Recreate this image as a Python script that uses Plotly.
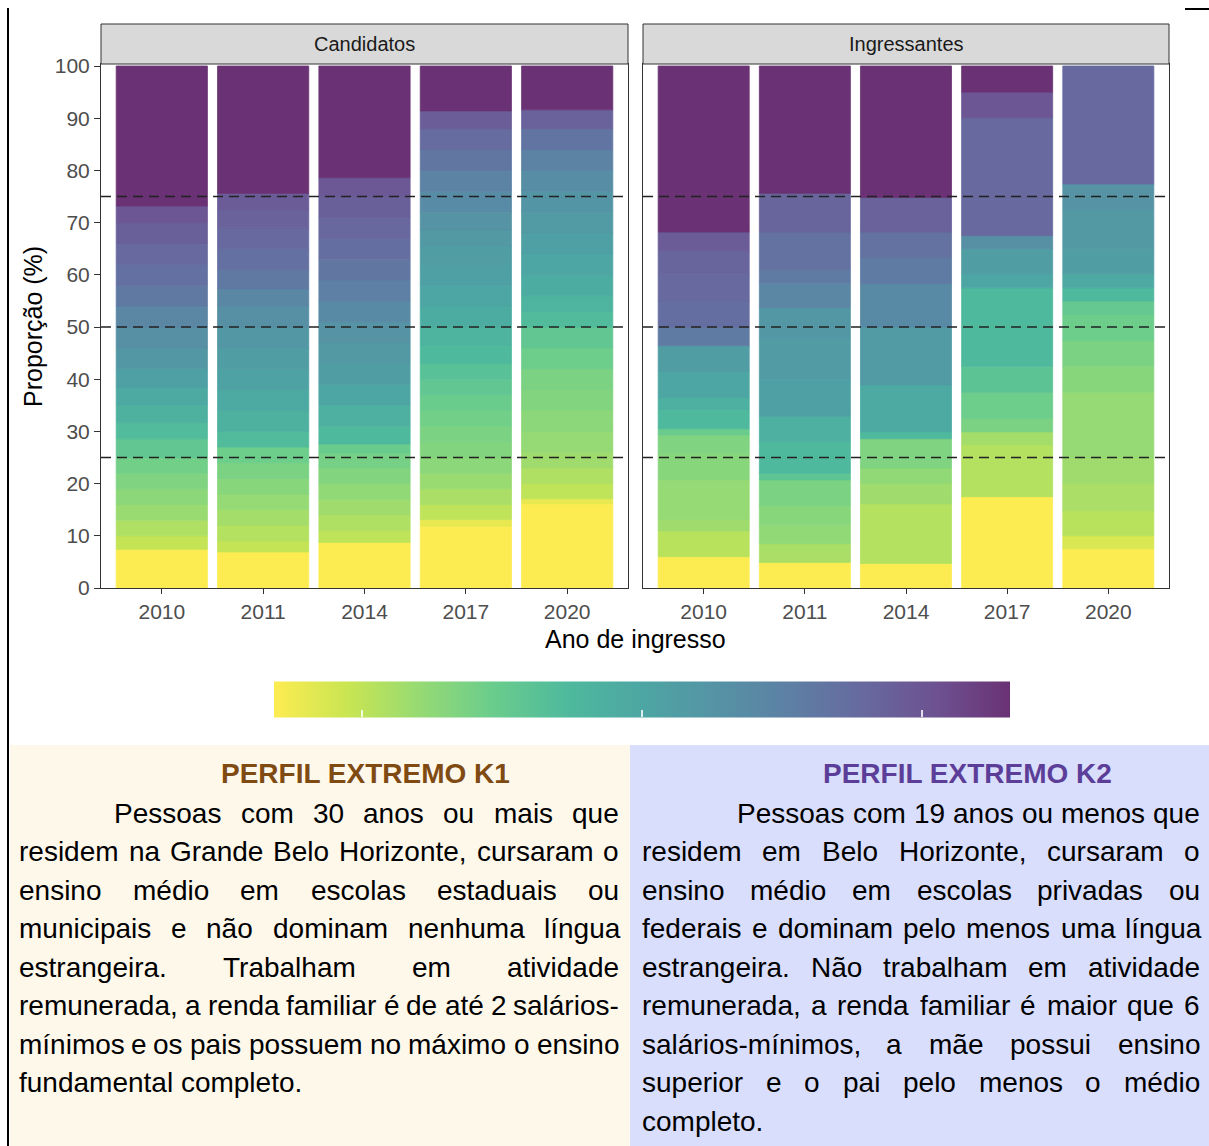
import plotly.graph_objects as go
import unicodedata

# ---------------- DATA ----------------
years = ["2010", "2011", "2014", "2017", "2020"]
panels = ["Candidatos", "Ingressantes"]

# Each bar: cumulative top of every stacked slice (%) and its colour score
# (score 0 = yellow / perfil K1 ... 1 = purple / perfil K2)
cand_2010_tops = [7.4, 10, 13, 16, 19, 22, 25, 28.6, 31.7, 35, 38.5, 42, 46, 50, 54, 58, 62, 66, 70, 73.2, 100]
cand_2010_score = [0, 0.11, 0.15, 0.19, 0.22, 0.25, 0.28, 0.33, 0.39, 0.44, 0.48, 0.53, 0.58, 0.62, 0.67, 0.73, 0.77, 0.80, 0.84, 0.88, 1.0]

cand_2011_tops = [6.9, 9, 12, 15, 18, 21, 24, 27, 30, 34, 38, 42, 46, 50, 54, 57.3, 61, 65, 69, 72.5, 75.6, 100]
cand_2011_score = [0, 0.11, 0.14, 0.17, 0.20, 0.23, 0.26, 0.29, 0.39, 0.44, 0.48, 0.52, 0.55, 0.58, 0.62, 0.66, 0.73, 0.77, 0.80, 0.83, 0.86, 1.0]

cand_2014_tops = [8.7, 11, 14, 17, 20, 23, 25.8, 27.6, 31, 35, 39, 43, 47, 51, 55, 59, 63, 67, 71, 75, 78.6, 100]
cand_2014_score = [0, 0.12, 0.15, 0.18, 0.21, 0.24, 0.27, 0.30, 0.40, 0.45, 0.50, 0.54, 0.57, 0.60, 0.65, 0.70, 0.74, 0.78, 0.81, 0.84, 0.87, 1.0]

cand_2017_tops = [11.8, 13.1, 16, 19, 22, 25, 28, 31, 34, 37, 40, 43, 46.5, 50, 54, 58, 62, 65.5, 68.6, 72, 76, 80, 84, 88, 91.4, 100]
cand_2017_score = [0, 0.04, 0.12, 0.16, 0.19, 0.22, 0.24, 0.26, 0.28, 0.30, 0.33, 0.36, 0.40, 0.43, 0.47, 0.50, 0.53, 0.55, 0.57, 0.60, 0.64, 0.69, 0.74, 0.79, 0.85, 1.0]

cand_2020_tops = [16.1, 17.1, 20, 23, 26, 30, 34, 38, 42, 46, 50, 53, 56, 60, 64, 68, 72, 76, 80, 84, 88, 91.6, 100]
cand_2020_score = [0, 0.04, 0.12, 0.15, 0.18, 0.20, 0.22, 0.24, 0.26, 0.29, 0.33, 0.39, 0.43, 0.47, 0.50, 0.53, 0.56, 0.59, 0.63, 0.69, 0.75, 0.83, 1.0]

ingr_2010_tops = [6.0, 10.9, 13.1, 20.7, 25.7, 29.3, 30.5, 34.2, 36.5, 41.5, 46.4, 50, 55, 60, 64.6, 68.2, 100]
ingr_2010_score = [0, 0.13, 0.18, 0.20, 0.23, 0.25, 0.30, 0.40, 0.45, 0.50, 0.55, 0.72, 0.78, 0.80, 0.82, 0.86, 1.0]

ingr_2011_tops = [4.9, 8.5, 12.1, 15.8, 20.7, 22, 28, 32.9, 40, 48, 53.7, 58.4, 61, 68.2, 75.6, 100]
ingr_2011_score = [0, 0.16, 0.21, 0.23, 0.26, 0.34, 0.40, 0.45, 0.53, 0.56, 0.58, 0.67, 0.72, 0.76, 0.82, 1.0]

ingr_2014_tops = [4.7, 16.1, 20.1, 23, 28.6, 29.9, 38.9, 50, 58.3, 63.3, 68.2, 74.8, 100]
ingr_2014_score = [0, 0.14, 0.18, 0.21, 0.25, 0.40, 0.48, 0.56, 0.65, 0.72, 0.76, 0.83, 1.0]

ingr_2017_tops = [17.5, 27.4, 29.9, 32.4, 37.5, 42.5, 57.5, 60.2, 65, 67.5, 90.1, 95, 100]
ingr_2017_score = [0, 0.14, 0.17, 0.26, 0.29, 0.35, 0.40, 0.50, 0.55, 0.62, 0.80, 0.88, 1.0]

ingr_2020_tops = [7.5, 10, 14.8, 20, 25, 37.5, 42.5, 47.4, 52.4, 55, 57.5, 60.2, 65, 72.5, 77.4, 100]
ingr_2020_score = [0, 0.07, 0.13, 0.16, 0.18, 0.20, 0.23, 0.26, 0.29, 0.32, 0.40, 0.48, 0.54, 0.57, 0.60, 0.80]

candidatos = [(cand_2010_tops, cand_2010_score), (cand_2011_tops, cand_2011_score),
              (cand_2014_tops, cand_2014_score), (cand_2017_tops, cand_2017_score),
              (cand_2020_tops, cand_2020_score)]
ingressantes = [(ingr_2010_tops, ingr_2010_score), (ingr_2011_tops, ingr_2011_score),
                (ingr_2014_tops, ingr_2014_score), (ingr_2017_tops, ingr_2017_score),
                (ingr_2020_tops, ingr_2020_score)]

y_ticks = [0, 10, 20, 30, 40, 50, 60, 70, 80, 90, 100]
ref_lines = [25, 50, 75]

k1_title = "PERFIL EXTREMO K1"
k2_title = "PERFIL EXTREMO K2"
k1_lines = [
    "Pessoas com 30 anos ou mais que",
    "residem na Grande Belo Horizonte, cursaram o",
    "ensino médio em escolas estaduais ou",
    "municipais e não dominam nenhuma língua",
    "estrangeira. Trabalham em atividade",
    "remunerada, a renda familiar é de até 2 salários-",
    "mínimos e os pais possuem no máximo o ensino",
    "fundamental completo.",
]
k2_lines = [
    "Pessoas com 19 anos ou menos que",
    "residem em Belo Horizonte, cursaram o",
    "ensino médio em escolas privadas ou",
    "federais e dominam pelo menos uma língua",
    "estrangeira. Não trabalham em atividade",
    "remunerada, a renda familiar é maior que 6",
    "salários-mínimos, a mãe possui ensino",
    "superior e o pai pelo menos o médio",
    "completo.",
]

# ---------------- STYLE ----------------
W, H = 1209, 1146
FONT = "Liberation Sans"

def px(x):
    return x / W

def py(y):
    return 1 - y / H

# reversed viridis, alpha 0.8 over white
colorscale = [
    [0.0, "#FDEC51"], [0.1, "#C9E552"], [0.2, "#95DA74"], [0.3, "#69CC8D"],
    [0.4, "#4EB99D"], [0.5, "#4DA6A3"], [0.6, "#5593A5"], [0.7, "#5D80A4"],
    [0.8, "#67699F"], [0.9, "#6D5191"], [1.0, "#6A3274"],
]

fig = go.Figure()

for pi, bars in enumerate([candidatos, ingressantes]):
    xs, hs, bs, cs = [], [], [], []
    for bi, (tops, scores) in enumerate(bars):
        prev = 0.0
        for t, s in zip(tops, scores):
            xs.append(bi + 1)
            bs.append(prev)
            hs.append(t - prev)
            cs.append(s)
            prev = t
    fig.add_trace(go.Bar(
        x=xs, y=hs, base=bs, width=0.9,
        marker=dict(color=cs, coloraxis="coloraxis",
                    line=dict(width=0.8, color=cs, colorscale=colorscale, cmin=0, cmax=1)),
        xaxis="x" if pi == 0 else "x2", yaxis="y" if pi == 0 else "y2",
        showlegend=False, hoverinfo="skip",
    ))

panel_x = [(101, 628), (643, 1169)]
panel_top, panel_bottom = 64, 588
ymax = 100 * (panel_bottom - panel_top) / (588 - 66)

axis_common = dict(showline=True, mirror=True, linecolor="#333333", linewidth=1,
                   showgrid=False, zeroline=False, automargin=False)

layout = dict(
    width=W, height=H, margin=dict(l=0, r=0, t=0, b=0, pad=0, autoexpand=False),
    paper_bgcolor="white", plot_bgcolor="white",
    barmode="overlay",
    font=dict(family=FONT),
    coloraxis=dict(
        colorscale=colorscale, cmin=0, cmax=1,
        colorbar=dict(
            orientation="h", x=px(642), xanchor="center", y=py(703), yanchor="middle",
            len=736 / W, lenmode="fraction", thickness=36, thicknessmode="pixels",
            outlinewidth=0, xpad=0, ypad=0,
            tickvals=[0.12, 0.5, 0.88], ticktext=["", "", ""], showticklabels=False,
            ticks="inside", ticklen=7, tickwidth=1.5, tickcolor="rgba(255,255,255,0.8)",
        ),
    ),
)
for i, (x0, x1) in enumerate(panel_x):
    sfx = "" if i == 0 else "2"
    layout["xaxis" + sfx] = dict(
        axis_common, domain=[px(x0), px(x1)], range=[0.4, 5.6],
        tickvals=[1, 2, 3, 4, 5], ticktext=years, ticks="outside", ticklen=5,
        tickcolor="#333333", tickfont=dict(size=21, color="#4D4D4D", family=FONT),
        anchor="y" + sfx, fixedrange=True,
    )
    layout["yaxis" + sfx] = dict(
        axis_common, domain=[py(panel_bottom), py(panel_top)], range=[0, ymax],
        tickvals=y_ticks, ticks="outside" if i == 0 else "", ticklen=6,
        tickcolor="#333333", showticklabels=(i == 0),
        tickfont=dict(size=21, color="#4D4D4D", family=FONT),
        anchor="x" + sfx, fixedrange=True,
    )
fig.update_layout(**layout)

shapes = []
annotations = []

# text boxes
shapes.append(dict(type="rect", xref="paper", yref="paper", x0=px(10), x1=px(630),
                   y0=py(1146), y1=py(745), fillcolor="#FEF8EB", line=dict(width=0), layer="below"))
shapes.append(dict(type="rect", xref="paper", yref="paper", x0=px(630), x1=px(1209),
                   y0=py(1146), y1=py(745), fillcolor="#D9DEFC", line=dict(width=0), layer="below"))
# page border lines
shapes.append(dict(type="line", xref="paper", yref="paper", x0=px(8), x1=px(8),
                   y0=py(8), y1=py(1146), line=dict(color="black", width=2)))
shapes.append(dict(type="line", xref="paper", yref="paper", x0=px(1185), x1=px(1209),
                   y0=py(9), y1=py(9), line=dict(color="black", width=2)))

# strips
for (x0, x1), name in zip(panel_x, panels):
    shapes.append(dict(type="rect", xref="paper", yref="paper", x0=px(x0), x1=px(x1),
                       y0=py(64), y1=py(24), fillcolor="#D9D9D9",
                       line=dict(color="#333333", width=1)))
    annotations.append(dict(text=name, xref="paper", yref="paper", x=px((x0 + x1) / 2),
                            y=py(44), showarrow=False, xanchor="center", yanchor="middle",
                            font=dict(size=20, color="#1A1A1A", family=FONT)))

# dashed reference lines
for i, (x0, x1) in enumerate(panel_x):
    for v in ref_lines:
        shapes.append(dict(type="line", xref="paper", yref="y" if i == 0 else "y2",
                           x0=px(x0), x1=px(x1), y0=v, y1=v, layer="above",
                           line=dict(color="#222222", width=1.3, dash="10px,6px")))

# axis titles
annotations.append(dict(text="Proporção (%)", xref="paper", yref="paper", x=px(33), y=py(327),
                        showarrow=False, textangle=-90, xanchor="center", yanchor="middle",
                        font=dict(size=25, color="black", family=FONT)))
annotations.append(dict(text="Ano de ingresso", xref="paper", yref="paper", x=px(635), y=py(639),
                        showarrow=False, xanchor="center", yanchor="middle",
                        font=dict(size=25, color="black", family=FONT)))

# ---- justified text blocks ----
ARIAL = {
    'a': 556, 'b': 556, 'c': 500, 'd': 556, 'e': 556, 'f': 278, 'g': 556, 'h': 556, 'i': 222,
    'j': 222, 'k': 500, 'l': 222, 'm': 833, 'n': 556, 'o': 556, 'p': 556, 'q': 556, 'r': 333,
    's': 500, 't': 278, 'u': 556, 'v': 500, 'w': 722, 'x': 500, 'y': 500, 'z': 500,
    'A': 667, 'B': 667, 'C': 722, 'D': 722, 'E': 667, 'F': 611, 'G': 778, 'H': 722, 'I': 278,
    'J': 500, 'K': 667, 'L': 556, 'M': 833, 'N': 722, 'O': 778, 'P': 667, 'Q': 778, 'R': 722,
    'S': 667, 'T': 611, 'U': 722, 'V': 667, 'W': 944, 'X': 667, 'Y': 667, 'Z': 611,
    ' ': 278, ',': 278, '.': 278, '-': 333, '(': 333, ')': 333, '%': 889,
}
for d in "0123456789":
    ARIAL[d] = 556

def tw(s, size):
    total = 0
    for ch in s:
        base = unicodedata.normalize("NFD", ch)[0]
        total += ARIAL.get(base, 556)
    return total * size / 1000.0

TXT = 28
LINE0, PITCH = 813, 38.5

def add_block(lines, left, right, indent_left, color="black"):
    for li, line in enumerate(lines):
        yc = LINE0 + li * PITCH
        lx = indent_left if li == 0 else left
        words = line.split(" ")
        last = li == len(lines) - 1
        if last or len(words) == 1:
            annotations.append(dict(text=line, xref="paper", yref="paper", x=px(lx), y=py(yc),
                                    showarrow=False, xanchor="left", yanchor="middle", borderpad=0,
                                    font=dict(size=TXT, color=color, family=FONT)))
            continue
        widths = [tw(w, TXT) for w in words]
        gap = (right - lx - sum(widths)) / (len(words) - 1)
        x = lx
        for w, wd in zip(words, widths):
            annotations.append(dict(text=w, xref="paper", yref="paper", x=px(x), y=py(yc),
                                    showarrow=False, xanchor="left", yanchor="middle", borderpad=0,
                                    font=dict(size=TXT, color=color, family=FONT)))
            x += wd + gap

add_block(k1_lines, 18, 618, 113)
add_block(k2_lines, 641, 1199, 736)

annotations.append(dict(text="<b>" + k1_title + "</b>", xref="paper", yref="paper",
                        x=px(365.5), y=py(773), showarrow=False, xanchor="center", yanchor="middle",
                        font=dict(size=TXT, color="#7F4B13", family=FONT)))
annotations.append(dict(text="<b>" + k2_title + "</b>", xref="paper", yref="paper",
                        x=px(967.5), y=py(773), showarrow=False, xanchor="center", yanchor="middle",
                        font=dict(size=TXT, color="#5C3E99", family=FONT)))

fig.update_layout(shapes=shapes, annotations=annotations)
fig.write_html("out.html", config={"displayModeBar": False},
               post_script="document.body.style.margin='0';document.body.style.overflow='hidden';")
